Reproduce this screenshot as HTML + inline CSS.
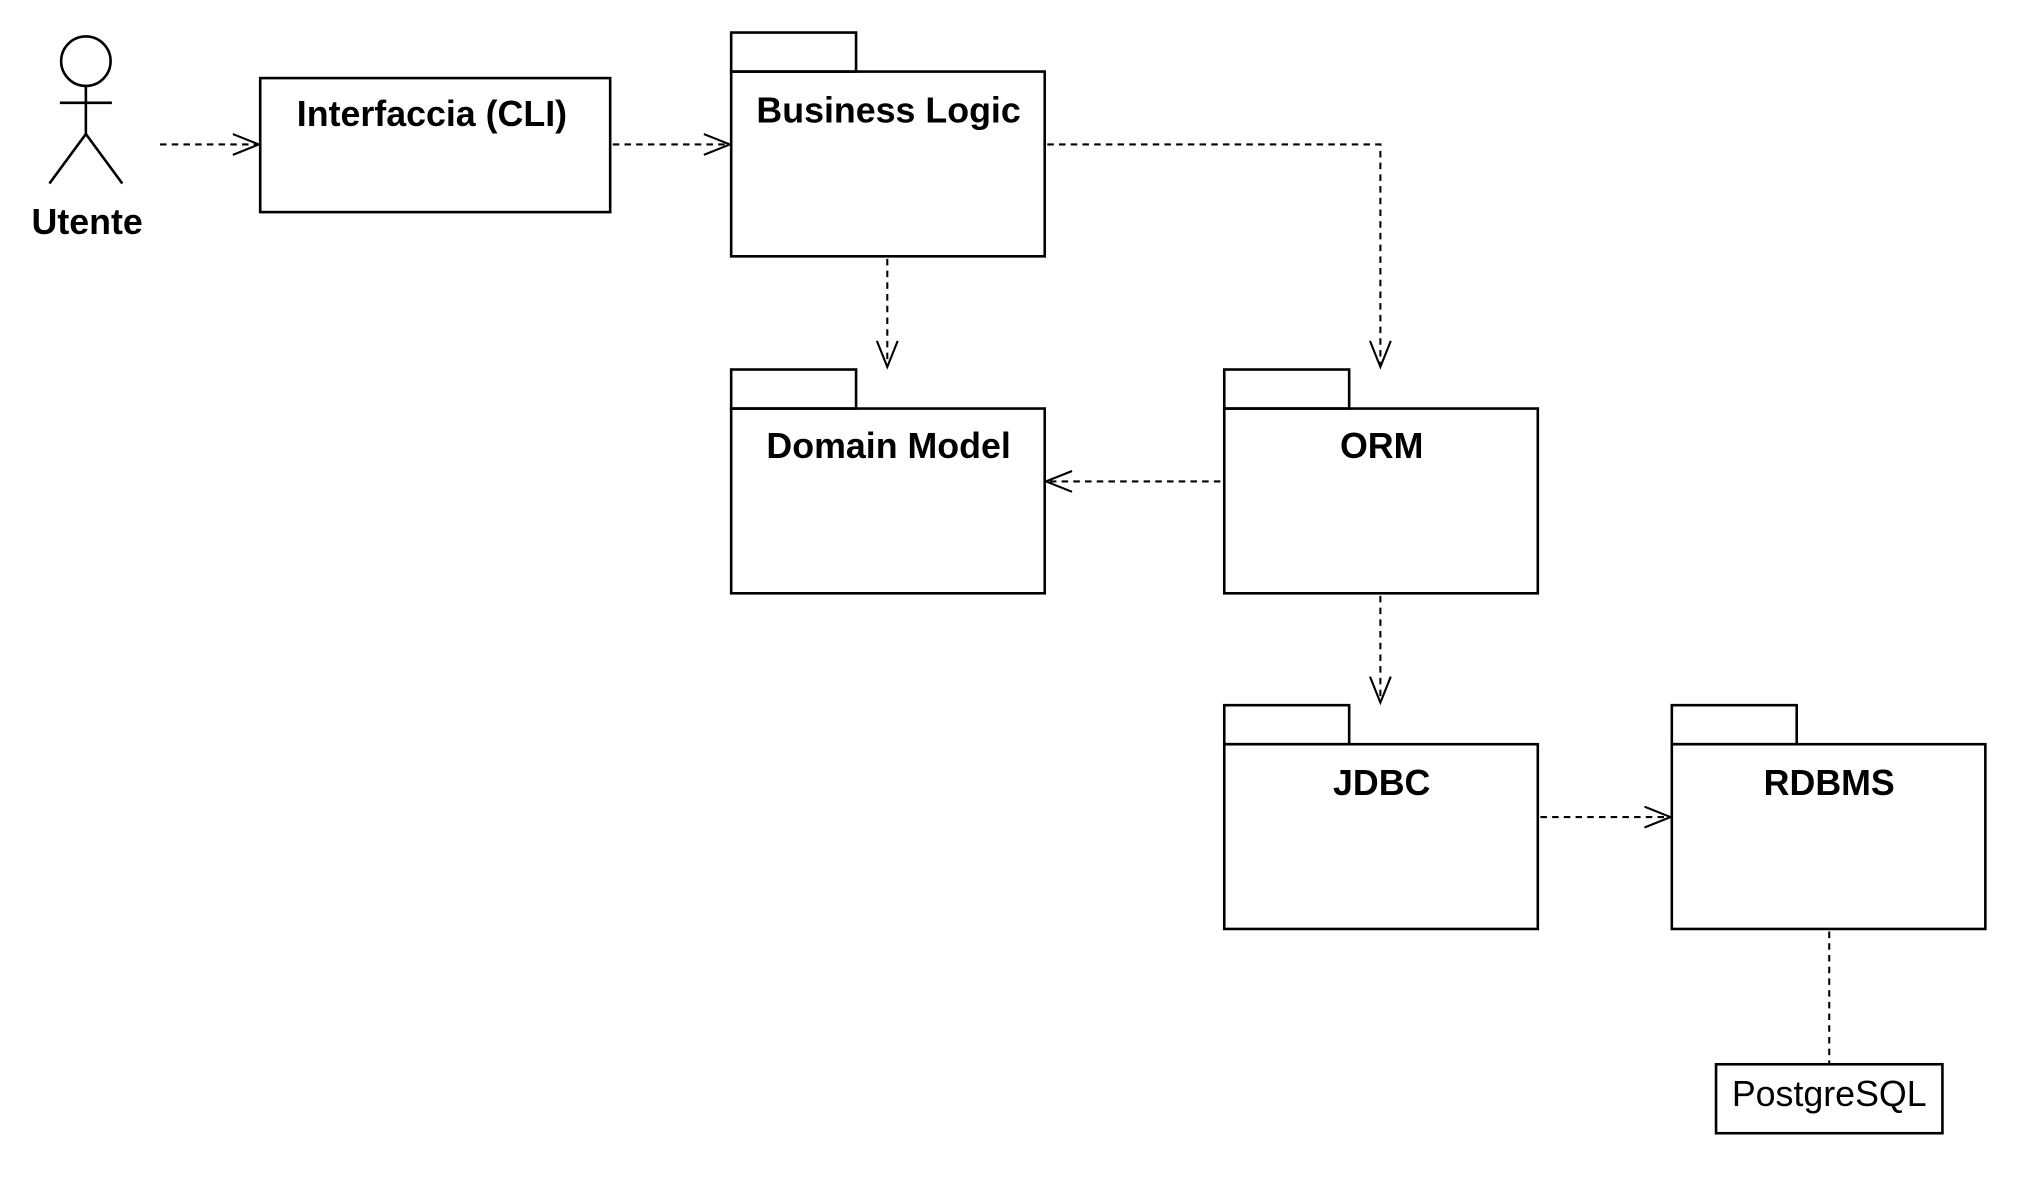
<!DOCTYPE html>
<html><head><meta charset="utf-8"><style>html,body{margin:0;padding:0;background:#fff;}svg{display:block}</style></head>
<body>
<svg width="2040" height="1181" viewBox="0 0 1568 907.7" xmlns="http://www.w3.org/2000/svg">
<defs>
<marker id="a" markerWidth="24" markerHeight="20" refX="22" refY="10" orient="auto" markerUnits="userSpaceOnUse">
<path d="M2,2 L22,10 L2,18" fill="none" stroke="#000" stroke-width="1.6"/>
</marker>
</defs>
<g fill="none" stroke="#000" stroke-width="2">
<circle cx="66" cy="47" r="19"/>
<line x1="66" y1="66" x2="66" y2="103"/>
<line x1="46" y1="79" x2="86" y2="79"/>
<line x1="66" y1="103" x2="38" y2="141"/>
<line x1="66" y1="103" x2="94" y2="141"/>
<rect x="200" y="60" width="269" height="103"/>
<rect x="562" y="25" width="96" height="30"/><rect x="562" y="55" width="241" height="142"/>
<rect x="562" y="284" width="96" height="30"/><rect x="562" y="314" width="241" height="142"/>
<rect x="941" y="284" width="96" height="30"/><rect x="941" y="314" width="241" height="142"/>
<rect x="941" y="542" width="96" height="30"/><rect x="941" y="572" width="241" height="142"/>
<rect x="1285" y="542" width="96" height="30"/><rect x="1285" y="572" width="241" height="142"/>
<rect x="1319" y="818" width="174" height="53"/>
</g>
<g fill="none" stroke="#000" stroke-width="1.6" stroke-dasharray="5,4">
<path d="M123,111 H199" marker-end="url(#a)"/>
<path d="M471,111 H561" marker-end="url(#a)"/>
<path d="M682,199 V282" marker-end="url(#a)"/>
<path d="M805,111 H1061 V282" marker-end="url(#a)"/>
<path d="M938,370 H804" marker-end="url(#a)"/>
<path d="M1061,458 V540" marker-end="url(#a)"/>
<path d="M1184,628 H1284" marker-end="url(#a)"/>
<path d="M1406,716 V817"/>
</g>
<g font-family="Liberation Sans, sans-serif" font-weight="bold" font-size="27.5" text-anchor="middle" fill="#000">
<text x="67" y="180">Utente</text>
<text x="332" y="97">Interfaccia (CLI)</text>
<text x="683" y="94">Business Logic</text>
<text x="683" y="352">Domain Model</text>
<text x="1062" y="352">ORM</text>
<text x="1062" y="611">JDBC</text>
<text x="1406" y="611">RDBMS</text>
<text x="1406" y="850" font-weight="normal">PostgreSQL</text>
</g>
</svg>
</body></html>
